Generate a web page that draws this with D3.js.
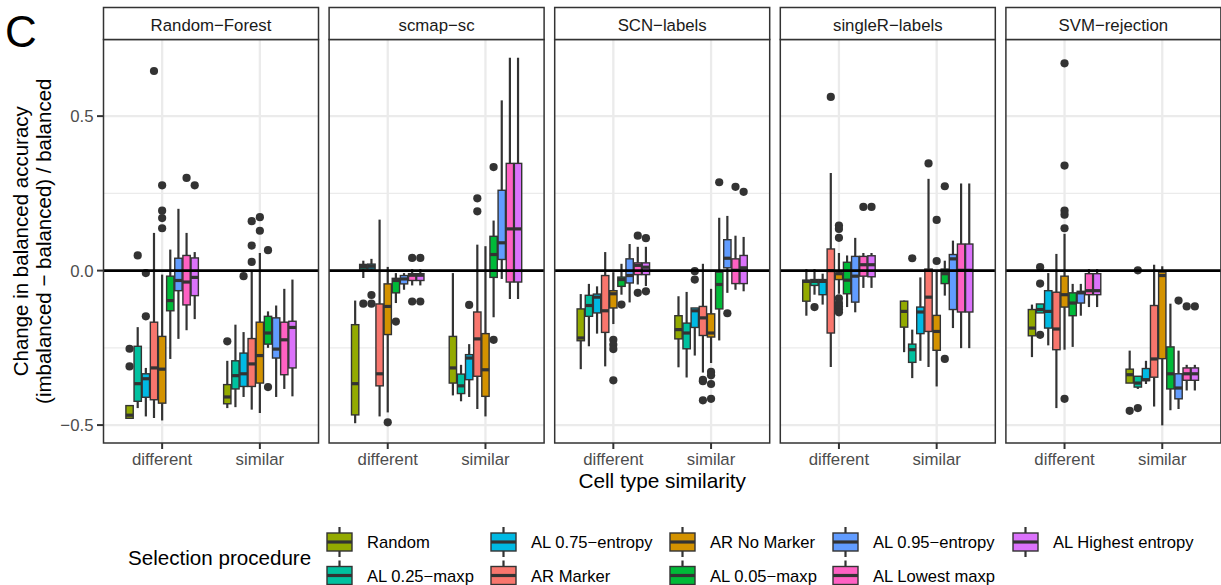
<!DOCTYPE html>
<html><head><meta charset="utf-8">
<script src="https://cdn.jsdelivr.net/npm/d3@7"></script>
<style>body{margin:0;background:#fff}svg{display:block}text{font-family:"Liberation Sans",Arial,Helvetica,sans-serif}</style>
</head><body><svg id="c" width="1221" height="585"></svg>
<script>
// ---------------- data ----------------
const methods = ["Random−Forest","scmap−sc","SCN−labels","singleR−labels","SVM−rejection"];
const categories = ["different","similar"];
const groups = ["Random","AL 0.25−maxp","AL 0.75−entropy","AR Marker","AR No Marker","AL 0.05−maxp","AL 0.95−entropy","AL Lowest maxp","AL Highest entropy"];
const groupColors = ["#93AA00","#00C19F","#00B9E3","#F8766D","#D39200","#00BA38","#619CFF","#FF61C3","#DB72FB"];
const yTicks = [-0.5, 0, 0.5];
const yTickLabels = ["−0.5","0.0","0.5"];
const yMinor = [-0.25, 0.25];
// each row: [lower whisker, q1, median, q3, upper whisker, outliers]; 9 rows "different" then 9 rows "similar"
const randomForest = [
 [-0.478,-0.478,-0.468,-0.437,-0.437,[-0.253,-0.310]],
 [-0.445,-0.423,-0.366,-0.245,-0.183,[0.049]],
 [-0.472,-0.410,-0.350,-0.334,-0.315,[-0.008,-0.148]],
 [-0.477,-0.418,-0.315,-0.167,0.122,[0.646]],
 [-0.485,-0.429,-0.319,-0.213,-0.013,[0.276,0.194,0.170,0.137]],
 [-0.286,-0.130,-0.097,-0.018,0.068,[]],
 [-0.221,-0.065,-0.032,0.040,0.200,[]],
 [-0.193,-0.111,-0.037,0.049,0.122,[0.300]],
 [-0.157,-0.081,-0.022,0.041,0.060,[0.276]],
 [-0.445,-0.431,-0.409,-0.369,-0.292,[-0.229]],
 [-0.442,-0.383,-0.340,-0.292,-0.175,[]],
 [-0.409,-0.375,-0.334,-0.267,-0.199,[-0.018]],
 [-0.450,-0.375,-0.302,-0.220,0.000,[0.160,0.081,0.028]],
 [-0.461,-0.364,-0.275,-0.167,0.057,[0.173,0.129]],
 [-0.250,-0.238,-0.202,-0.148,-0.132,[0.066,-0.377]],
 [-0.409,-0.283,-0.254,-0.153,-0.113,[]],
 [-0.383,-0.337,-0.224,-0.167,-0.059,[]],
 [-0.407,-0.315,-0.184,-0.164,-0.029,[]]
];
const scmapSc = [
 [-0.494,-0.467,-0.366,-0.175,-0.097,[]],
 [-0.024,0.005,0.013,0.020,0.032,[-0.107]],
 [0.000,0.005,0.014,0.021,0.038,[-0.079,-0.107]],
 [-0.472,-0.373,-0.334,-0.108,0.165,[]],
 [-0.459,-0.207,-0.116,-0.043,0.012,[-0.491]],
 [-0.105,-0.072,-0.032,-0.025,-0.008,[-0.165]],
 [-0.062,-0.043,-0.027,-0.016,-0.008,[]],
 [-0.048,-0.032,-0.015,-0.010,0.005,[0.041,-0.100]],
 [-0.048,-0.032,-0.015,-0.010,0.005,[0.041,-0.100]],
 [-0.404,-0.364,-0.315,-0.213,-0.008,[]],
 [-0.423,-0.398,-0.373,-0.335,-0.305,[]],
 [-0.409,-0.353,-0.283,-0.272,-0.238,[-0.111]],
 [-0.448,-0.342,-0.221,-0.134,0.084,[0.234,0.192]],
 [-0.472,-0.407,-0.321,-0.204,0.079,[]],
 [-0.151,-0.022,0.052,0.111,0.162,[0.335,-0.224]],
 [-0.027,0.036,0.090,0.260,0.551,[]],
 [-0.092,-0.037,0.135,0.347,0.689,[]],
 [-0.092,-0.037,0.135,0.347,0.689,[]]
];
const scnLabels = [
 [-0.319,-0.227,-0.218,-0.124,-0.076,[]],
 [-0.245,-0.148,-0.113,-0.080,-0.043,[]],
 [-0.204,-0.137,-0.086,-0.076,-0.051,[]],
 [-0.310,-0.200,-0.130,-0.016,0.060,[]],
 [-0.173,-0.121,-0.075,-0.065,-0.005,[-0.224,-0.240,-0.254,-0.355]],
 [-0.078,-0.051,-0.029,-0.021,0.022,[-0.110]],
 [-0.103,-0.040,-0.016,0.038,0.086,[]],
 [-0.045,-0.013,0.017,0.025,0.077,[0.113,-0.072]],
 [-0.050,-0.013,0.011,0.025,0.077,[0.105,-0.067]],
 [-0.313,-0.221,-0.191,-0.146,-0.083,[]],
 [-0.346,-0.253,-0.202,-0.170,-0.069,[]],
 [-0.275,-0.184,-0.130,-0.121,-0.121,[-0.002,-0.029]],
 [-0.330,-0.210,-0.153,-0.116,0.022,[-0.354,-0.358,-0.420]],
 [-0.299,-0.215,-0.202,-0.140,-0.059,[-0.328,-0.339,-0.367,-0.415]],
 [-0.226,-0.124,-0.045,-0.005,0.171,[0.286]],
 [-0.072,0.009,0.040,0.100,0.177,[-0.138]],
 [-0.062,-0.042,0.001,0.038,0.113,[0.271]],
 [-0.067,-0.042,0.009,0.049,0.109,[0.255]]
];
const singleRLabels = [
 [-0.146,-0.099,-0.035,-0.031,0.005,[]],
 [-0.078,-0.048,-0.035,-0.029,0.005,[-0.118]],
 [-0.110,-0.078,-0.035,-0.029,-0.010,[]],
 [-0.312,-0.202,0.000,0.070,0.316,[0.562]],
 [-0.075,-0.029,-0.010,-0.008,0.057,[0.146,0.135,0.106,-0.090,-0.105,-0.115,-0.125,-0.135]],
 [-0.118,-0.075,-0.031,0.027,0.049,[]],
 [-0.135,-0.102,-0.018,0.046,0.106,[]],
 [-0.056,-0.018,0.019,0.046,0.057,[0.206]],
 [-0.056,-0.020,0.019,0.048,0.057,[0.206]],
 [-0.264,-0.183,-0.132,-0.099,-0.097,[]],
 [-0.348,-0.297,-0.256,-0.238,-0.191,[0.040]],
 [-0.292,-0.204,-0.134,-0.118,-0.022,[]],
 [-0.312,-0.197,-0.086,0.005,0.297,[0.347]],
 [-0.375,-0.258,-0.197,-0.145,0.000,[0.164,0.031]],
 [-0.081,-0.042,-0.010,0.005,0.032,[0.273,-0.286]],
 [-0.186,-0.126,0.038,0.052,0.097,[]],
 [-0.251,-0.134,0.001,0.086,0.282,[]],
 [-0.251,-0.134,0.001,0.086,0.282,[]]
];
const svmRejection = [
 [-0.280,-0.211,-0.186,-0.126,-0.110,[]],
 [-0.137,-0.137,-0.126,-0.108,-0.108,[0.011,-0.042,-0.208]],
 [-0.242,-0.186,-0.132,-0.065,-0.008,[]],
 [-0.445,-0.256,-0.189,-0.070,0.054,[]],
 [-0.256,-0.118,-0.078,-0.018,0.119,[0.671,0.340,0.194,0.181,0.137,-0.415]],
 [-0.247,-0.146,-0.105,-0.072,-0.043,[]],
 [-0.146,-0.105,-0.072,-0.067,-0.043,[]],
 [-0.118,-0.078,-0.065,-0.010,0.005,[]],
 [-0.118,-0.078,-0.065,-0.010,0.005,[]],
 [-0.364,-0.364,-0.337,-0.319,-0.259,[-0.454]],
 [-0.383,-0.377,-0.364,-0.342,-0.342,[0.001,-0.445]],
 [-0.367,-0.356,-0.353,-0.317,-0.292,[]],
 [-0.440,-0.345,-0.286,-0.113,0.019,[]],
 [-0.501,-0.285,-0.016,-0.005,0.014,[]],
 [-0.452,-0.383,-0.334,-0.247,-0.107,[]],
 [-0.448,-0.415,-0.380,-0.334,-0.259,[-0.097]],
 [-0.388,-0.355,-0.334,-0.315,-0.305,[-0.116]],
 [-0.388,-0.355,-0.334,-0.315,-0.305,[-0.116]]
];
const methodData = [randomForest, scmapSc, scnLabels, singleRLabels, svmRejection];

// ---------------- layout ----------------
const svg = d3.select("#c");
const panelW = 215, panelStep = 225.6, panel0 = 103.5;
const stripTop = 7.5, plotTop = 39.5, plotBottom = 443;
const dark = "#333333", gridCol = "#EBEBEB", axisTextCol = "#4D4D4D";

const y = d3.scaleLinear().domain([-0.558, 0.748]).range([plotBottom, plotTop]);
const x = d3.scalePoint().domain(categories).range([0, panelW]).padding(0.6);
const unit = x.step();
const dodge = d3.scaleBand().domain(groups).range([-0.375*unit, 0.375*unit]).paddingInner(0.1).paddingOuter(0.05);
const color = d3.scaleOrdinal().domain(groups).range(groupColors);

methods.forEach((m, mi) => {
  const px = panel0 + mi*panelStep;
  const g = svg.append("g").attr("transform", `translate(${px},0)`);
  g.append("rect").attr("x",0).attr("y",plotTop).attr("width",panelW).attr("height",plotBottom-plotTop).attr("fill","#fff");
  g.selectAll(".minor").data(yMinor).join("line")
    .attr("x1",0).attr("x2",panelW).attr("y1",d=>y(d)).attr("y2",d=>y(d))
    .attr("stroke",gridCol).attr("stroke-width",1.2);
  g.selectAll(".majY").data(yTicks).join("line")
    .attr("x1",0).attr("x2",panelW).attr("y1",d=>y(d)).attr("y2",d=>y(d))
    .attr("stroke",gridCol).attr("stroke-width",2.3);
  g.selectAll(".majX").data(categories).join("line")
    .attr("x1",d=>x(d)).attr("x2",d=>x(d)).attr("y1",plotTop).attr("y2",plotBottom)
    .attr("stroke",gridCol).attr("stroke-width",2.3);

  const rows = methodData[mi];
  const boxes = [];
  categories.forEach((c, ci) => {
    groups.forEach((gr, gi) => {
      const r = rows[ci*groups.length + gi];
      boxes.push({cat:c, grp:gr, lw:r[0], q1:r[1], med:r[2], q3:r[3], uw:r[4], out:r[5]});
    });
  });
  const bw = dodge.bandwidth();
  const bg = g.selectAll(".box").data(boxes).join("g")
    .attr("transform", d => `translate(${x(d.cat) + dodge(d.grp) + bw/2},0)`);
  bg.append("line").attr("x1",0).attr("x2",0).attr("y1",d=>y(d.uw)).attr("y2",d=>y(d.q3))
    .attr("stroke",dark).attr("stroke-width",2.2);
  bg.append("line").attr("x1",0).attr("x2",0).attr("y1",d=>y(d.q1)).attr("y2",d=>y(d.lw))
    .attr("stroke",dark).attr("stroke-width",2.2);
  bg.append("rect").attr("x",-bw/2).attr("width",bw)
    .attr("y",d=>y(d.q3)).attr("height",d=>Math.max(0.5, y(d.q1)-y(d.q3)))
    .attr("fill",d=>color(d.grp)).attr("stroke",dark).attr("stroke-width",1.4);
  bg.append("line").attr("x1",-bw/2).attr("x2",bw/2).attr("y1",d=>y(d.med)).attr("y2",d=>y(d.med))
    .attr("stroke",dark).attr("stroke-width",3.2);
  bg.selectAll("circle").data(d=>d.out).join("circle")
    .attr("cx",0).attr("cy",v=>y(v)).attr("r",4.1).attr("fill",dark);

  g.append("line").attr("x1",0).attr("x2",panelW).attr("y1",y(0)).attr("y2",y(0))
    .attr("stroke","#000").attr("stroke-width",2.6);

  g.append("rect").attr("x",0).attr("y",plotTop).attr("width",panelW).attr("height",plotBottom-plotTop)
    .attr("fill","none").attr("stroke",dark).attr("stroke-width",1.5);
  g.append("rect").attr("x",0).attr("y",stripTop).attr("width",panelW).attr("height",plotTop-stripTop)
    .attr("fill","#fff").attr("stroke",dark).attr("stroke-width",1.5);
  g.append("text").attr("x",panelW/2).attr("y",30.5).attr("text-anchor","middle")
    .attr("font-size",16.8).attr("fill","#1A1A1A").text(m);

  g.selectAll(".xt").data(categories).join("line")
    .attr("x1",d=>x(d)).attr("x2",d=>x(d)).attr("y1",plotBottom).attr("y2",plotBottom+6)
    .attr("stroke",dark).attr("stroke-width",2);
  g.selectAll(".xl").data(categories).join("text")
    .attr("x",d=>x(d)).attr("y",465).attr("text-anchor","middle")
    .attr("font-size",16.8).attr("fill",axisTextCol).text(d=>d);
});

const ya = svg.append("g");
ya.selectAll("line").data(yTicks).join("line")
  .attr("x1",97).attr("x2",panel0).attr("y1",d=>y(d)).attr("y2",d=>y(d))
  .attr("stroke",dark).attr("stroke-width",2);
ya.selectAll("text").data(yTicks).join("text")
  .attr("x",93.5).attr("y",d=>y(d)).attr("dy","0.36em").attr("text-anchor","end")
  .attr("font-size",16.8).attr("fill",axisTextCol).text((d,i)=>yTickLabels[i]);

const yMid = (plotTop+plotBottom)/2;
svg.append("text").attr("transform",`translate(28,${yMid}) rotate(-90)`).attr("text-anchor","middle")
  .attr("font-size",20.5).attr("fill","#000").text("Change in balanced accuracy");
svg.append("text").attr("transform",`translate(51,${yMid}) rotate(-90)`).attr("text-anchor","middle")
  .attr("font-size",20.5).attr("fill","#000").text("(imbalanced − balanced) / balanced");

const xMid = (panel0 + panel0 + 4*panelStep + panelW)/2;
svg.append("text").attr("x",xMid).attr("y",488).attr("text-anchor","middle")
  .attr("font-size",20.8).attr("fill","#000").text("Cell type similarity");

svg.append("text").attr("x",5).attr("y",47).attr("font-size",44).attr("fill","#000").text("C");

svg.append("text").attr("x",128).attr("y",565).attr("font-size",20.6).attr("fill","#000").text("Selection procedure");
const colX = [327, 491, 670, 833, 1013];
const rowY = [542, 575.5];
const lg = svg.selectAll(".lg").data(groups).join("g")
  .attr("transform",(d,i)=>`translate(${colX[Math.floor(i/2)]},${rowY[i%2]})`);
const kw = 25;
lg.append("line").attr("x1",kw/2).attr("x2",kw/2).attr("y1",-15).attr("y2",15).attr("stroke",dark).attr("stroke-width",2.2);
lg.append("rect").attr("x",0).attr("y",-9).attr("width",kw).attr("height",18)
  .attr("fill",d=>color(d)).attr("stroke",dark).attr("stroke-width",1.4);
lg.append("line").attr("x1",0).attr("x2",kw).attr("y1",0).attr("y2",0).attr("stroke",dark).attr("stroke-width",3.2);
lg.append("text").attr("x",40).attr("y",6).attr("font-size",16.6).attr("fill","#000").text(d=>d);
</script></body></html>
